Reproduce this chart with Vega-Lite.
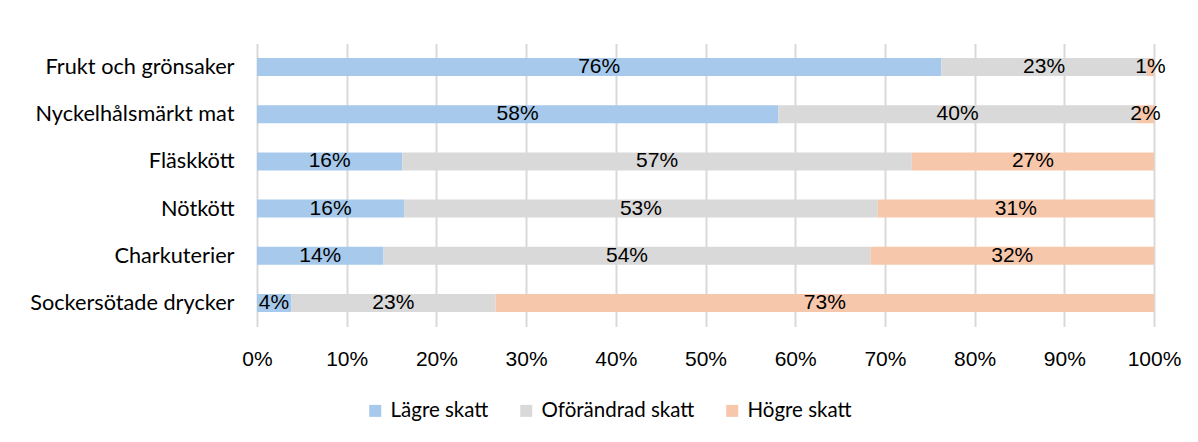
{
  "$schema": "https://vega.github.io/schema/vega-lite/v6.json",
  "width": 897,
  "height": 283,
  "autosize": "none",
  "padding": {"left": 257, "top": 43.5, "right": 44, "bottom": 115},
  "background": "white",
  "data": {"values": [
    {"cat": "Frukt och grönsaker", "resp": "Lägre skatt", "o": 1, "v": 0.763},
    {"cat": "Frukt och grönsaker", "resp": "Oförändrad skatt", "o": 2, "v": 0.229},
    {"cat": "Frukt och grönsaker", "resp": "Högre skatt", "o": 3, "v": 0.008},
    {"cat": "Nyckelhålsmärkt mat", "resp": "Lägre skatt", "o": 1, "v": 0.581},
    {"cat": "Nyckelhålsmärkt mat", "resp": "Oförändrad skatt", "o": 2, "v": 0.400},
    {"cat": "Nyckelhålsmärkt mat", "resp": "Högre skatt", "o": 3, "v": 0.019},
    {"cat": "Fläskkött", "resp": "Lägre skatt", "o": 1, "v": 0.162},
    {"cat": "Fläskkött", "resp": "Oförändrad skatt", "o": 2, "v": 0.568},
    {"cat": "Fläskkött", "resp": "Högre skatt", "o": 3, "v": 0.270},
    {"cat": "Nötkött", "resp": "Lägre skatt", "o": 1, "v": 0.164},
    {"cat": "Nötkött", "resp": "Oförändrad skatt", "o": 2, "v": 0.528},
    {"cat": "Nötkött", "resp": "Högre skatt", "o": 3, "v": 0.308},
    {"cat": "Charkuterier", "resp": "Lägre skatt", "o": 1, "v": 0.141},
    {"cat": "Charkuterier", "resp": "Oförändrad skatt", "o": 2, "v": 0.543},
    {"cat": "Charkuterier", "resp": "Högre skatt", "o": 3, "v": 0.316},
    {"cat": "Sockersötade drycker", "resp": "Lägre skatt", "o": 1, "v": 0.038},
    {"cat": "Sockersötade drycker", "resp": "Oförändrad skatt", "o": 2, "v": 0.228},
    {"cat": "Sockersötade drycker", "resp": "Högre skatt", "o": 3, "v": 0.734}
  ]},
  "transform": [
    {"stack": "v", "groupby": ["cat"], "sort": [{"field": "o", "order": "ascending"}], "as": ["x0", "x1"]},
    {"calculate": "(datum.x0 + datum.x1) / 2", "as": "xm"}
  ],
  "encoding": {
    "y": {
      "field": "cat", "type": "nominal", "sort": null,
      "scale": {"paddingInner": 0.62, "paddingOuter": 0.31},
      "axis": {"title": null, "domain": false, "ticks": false, "labelPadding": 23, "labelFont": "Lato", "labelFontSize": 21.7, "labelColor": "black", "labelLimit": 300}
    }
  },
  "layer": [
    {
      "mark": {"type": "bar"},
      "encoding": {
        "x": {
          "field": "x0", "type": "quantitative",
          "scale": {"domain": [0, 1], "nice": false},
          "axis": {"title": null, "format": ".0%", "values": [0, 0.1, 0.2, 0.3, 0.4, 0.5, 0.6, 0.7, 0.8, 0.9, 1], "domain": false, "ticks": false, "grid": true, "gridColor": "#D9D9D9", "gridWidth": 2, "labelPadding": 22, "labelFont": "Liberation Sans", "labelFontSize": 21, "labelColor": "black", "labelFlush": false, "labelOverlap": false}
        },
        "x2": {"field": "x1"},
        "color": {
          "field": "resp", "type": "nominal",
          "scale": {"domain": ["Lägre skatt", "Oförändrad skatt", "Högre skatt"], "range": ["#A6C9EC", "#D9D9D9", "#F7C7AC"]},
          "legend": {"orient": "none", "legendX": 108, "legendY": 357, "direction": "horizontal", "title": null, "symbolType": "square", "symbolSize": 144, "symbolStrokeWidth": 0, "symbolOpacity": 1, "labelFont": "Lato", "labelFontSize": 20.5, "labelColor": "black", "labelOffset": 5, "columnPadding": 27}
        }
      }
    },
    {
      "mark": {"type": "text", "font": "Liberation Sans", "fontSize": 21, "color": "black"},
      "encoding": {
        "x": {"field": "xm", "type": "quantitative"},
        "text": {"field": "v", "type": "quantitative", "format": ".0%"}
      }
    }
  ],
  "config": {"view": {"stroke": null}}
}
